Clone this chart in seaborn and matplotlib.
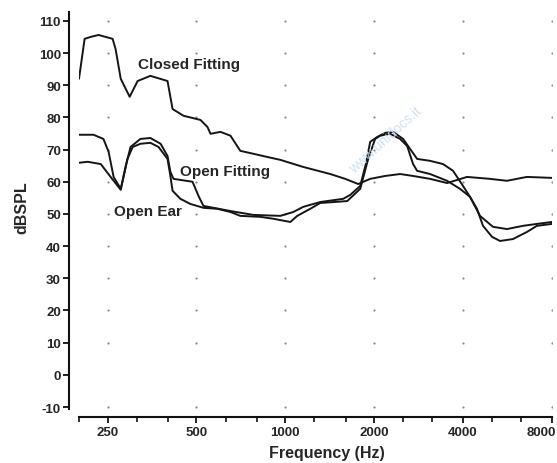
import numpy as np
import pandas as pd
import matplotlib
matplotlib.use('Agg')
import matplotlib.pyplot as plt
from matplotlib.ticker import FixedLocator, NullFormatter
from matplotlib.transforms import ScaledTranslation
import seaborn as sns

# values (Hz, dB SPL)
closed_freq = [200, 209, 219, 233, 260, 266, 277, 297, 316, 349, 399, 415, 452, 516, 545, 558,
               603, 652, 704, 779, 869, 962, 1150, 1420, 1596, 1766, 1939, 2179, 2449, 2710,
               3093, 3532, 4127, 4935, 5635, 6585, 8000]
closed_db = [92.0, 104.4, 105.0, 105.6, 104.4, 101.3, 92.0, 86.4, 91.3, 92.9, 91.3, 82.6, 80.5,
             79.2, 77.0, 74.9, 75.5, 74.3, 69.6, 68.7, 67.7, 66.8, 64.6, 62.4, 60.9, 59.3, 60.9,
             61.8, 62.4, 61.8, 60.9, 59.6, 61.5, 60.9, 60.3, 61.5, 61.2]

open_fit_freq = [200, 224, 242, 252, 262, 277, 288, 299, 323, 349, 378, 399, 408, 418, 485, 508,
                 528, 571, 652, 779, 962, 1064, 1150, 1313, 1571, 1659, 1794, 1880, 1939, 2048,
                 2179, 2319, 2507, 2689, 2796, 3093, 3422, 3701, 4000, 4225, 4566, 5053, 5635,
                 6382, 7117, 8000]
open_fit_db = [74.6, 74.6, 73.3, 69.3, 61.5, 57.8, 64.9, 70.8, 73.3, 73.6, 71.8, 68.0, 63.1, 60.9,
               60.0, 55.6, 52.5, 51.9, 50.9, 49.7, 49.4, 50.6, 52.2, 53.7, 54.7, 55.9, 58.7, 66.0,
               72.4, 73.9, 75.2, 75.5, 73.3, 69.3, 67.1, 66.5, 65.5, 63.4, 58.7, 55.3, 49.4, 46.0,
               45.3, 46.3, 46.9, 47.5]

open_ear_freq = [200, 214, 237, 256, 277, 292, 304, 323, 349, 372, 399, 408, 415, 441, 477, 528,
                 589, 652, 704, 823, 911, 1040, 1098, 1215, 1313, 1621, 1794, 1909, 2015, 2095,
                 2265, 2449, 2587, 2710, 2796, 3093, 3532, 3907, 4225, 4460, 4675, 5014, 5337,
                 5906, 6585, 7117, 8000]
open_ear_db = [65.9, 66.2, 65.5, 61.5, 57.5, 67.1, 70.8, 71.8, 72.1, 70.8, 67.1, 61.8, 57.2, 54.7,
               53.1, 51.9, 51.6, 50.6, 49.4, 49.1, 48.5, 47.5, 49.4, 51.6, 53.4, 54.0, 57.8, 67.1,
               73.3, 74.3, 74.9, 73.3, 71.1, 65.5, 63.4, 62.4, 60.3, 57.8, 55.3, 51.6, 46.3, 42.9,
               41.6, 42.2, 44.4, 46.3, 46.9]

x_ticks = [250, 500, 1000, 2000, 4000, 8000]
x_minor = [200, 315, 400, 630, 800, 1250, 1600, 2500, 3150, 5000, 6300]
y_ticks = list(range(-10, 111, 10))

df = pd.concat([
    pd.DataFrame({'freq': closed_freq, 'db': closed_db, 'curve': 'Closed Fitting'}),
    pd.DataFrame({'freq': open_fit_freq, 'db': open_fit_db, 'curve': 'Open Fitting'}),
    pd.DataFrame({'freq': open_ear_freq, 'db': open_ear_db, 'curve': 'Open Ear'}),
])

sns.set_style('ticks')
plt.rcParams['font.family'] = ['Liberation Sans', 'DejaVu Sans']
plt.rcParams['axes.unicode_minus'] = False

fig = plt.figure(figsize=(5.57, 4.64), dpi=100)
ax = fig.add_axes([0.1418, 0.1164, 0.849, 0.856])

# dotted grid: one small dot per tick crossing (the 0 row is blank in the scan)
gx, gy = np.meshgrid(x_ticks, [t for t in y_ticks if t != 0])
ax.scatter(gx.ravel(), gy.ravel(), s=2.5, color='#8a8a8a', linewidths=0, zorder=1)

sns.lineplot(data=df, x='freq', y='db', hue='curve', estimator=None, sort=False,
             palette=['#151515'] * 3, legend=False, linewidth=1.4, ax=ax)

ax.set_xscale('log')
ax.set_xlim(200, 8000)
ax.set_ylim(-10.6, 112.8)
ax.xaxis.set_major_locator(FixedLocator(x_ticks))
ax.set_xticklabels([str(t) for t in x_ticks])
ax.xaxis.set_minor_locator(FixedLocator(x_minor))
ax.xaxis.set_minor_formatter(NullFormatter())
ax.set_yticks(y_ticks)

sns.despine(ax=ax, offset={'left': 7, 'bottom': 6})
for s in ['left', 'bottom']:
    ax.spines[s].set_linewidth(1.5)
    ax.spines[s].set_color('#111111')
ax.tick_params(axis='both', which='major', length=4.5, width=1.3, color='#111111',
               labelsize=9.5, pad=1.5)
ax.tick_params(axis='x', which='minor', length=3.5, width=1.2, color='#111111')
for lab in ax.get_xticklabels() + ax.get_yticklabels():
    lab.set_fontweight('bold')
# the last label sits left of its tick so it stays inside the figure
last = ax.get_xticklabels()[-1]
last.set_transform(last.get_transform() + ScaledTranslation(-0.11, 0, fig.dpi_scale_trans))

ax.set_xlabel('Frequency (Hz)', fontsize=11.5, fontweight='bold')
ax.xaxis.set_label_coords(0.524, -0.09)
ax.set_ylabel('dBSPL', fontsize=11.5, fontweight='bold')
ax.yaxis.set_label_coords(-0.104, 0.509)

ax.text(316, 96.6, 'Closed Fitting', fontsize=11, fontweight='bold', va='center', ha='left')
ax.text(441, 63.4, 'Open Fitting', fontsize=11, fontweight='bold', va='center', ha='left')
ax.text(262, 50.9, 'Open Ear', fontsize=11, fontweight='bold', va='center', ha='left')

# faint scan watermark
fig.text(385 / 557, 1 - 140 / 464, 'www.unidocs.it', rotation=42, color='#cfe2f3',
         fontsize=10, ha='center', va='center', zorder=0)

fig.savefig('out.png', dpi=100)
